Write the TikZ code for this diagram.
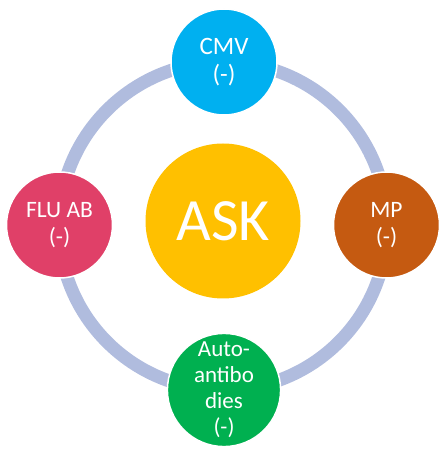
\documentclass[tikz,border=0pt]{standalone}
\usepackage{fontspec}
\setmainfont{Carlito}
\definecolor{ringc}{RGB}{176,188,222}
\definecolor{cmvc}{RGB}{0,176,240}
\definecolor{fluc}{RGB}{224,64,104}
\definecolor{mpc}{RGB}{197,90,17}
\definecolor{autoc}{RGB}{0,176,80}
\definecolor{askc}{RGB}{255,192,0}
\begin{document}
\begin{tikzpicture}[x=1pt,y=1pt,
  sat/.style={circle,draw=white,line width=1.5pt,minimum size=106pt,inner sep=0pt,
    text=white,align=center,font=\fontsize{23.5}{27}\selectfont},
  hub/.style={circle,fill=askc,minimum size=155pt,inner sep=0pt,text=white,
    font=\fontsize{60}{62}\selectfont},
  ring/.style={draw=ringc,line width=13pt}]
\useasboundingbox (0,0) rectangle (439,452);
\coordinate (c) at (223,226);
\draw[ring] (c) circle[radius=164];
\node[sat,fill=cmvc,font=\fontsize{25}{28}\selectfont] (cmv) at (224,390) {CMV\\(-)};
\node[sat,fill=fluc] (flu) at (59.5,227) {FLU AB\\(-)};
\node[sat,fill=mpc] (mp) at (386.5,227) {MP\\(-)};
\node[sat,fill=autoc,font=\fontsize{23}{26}\selectfont] (auto) at (224,62) {Auto-\\antibo\\dies\\(-)};
\node[hub] (ask) at (223,231) {ASK};
\end{tikzpicture}
\end{document}
